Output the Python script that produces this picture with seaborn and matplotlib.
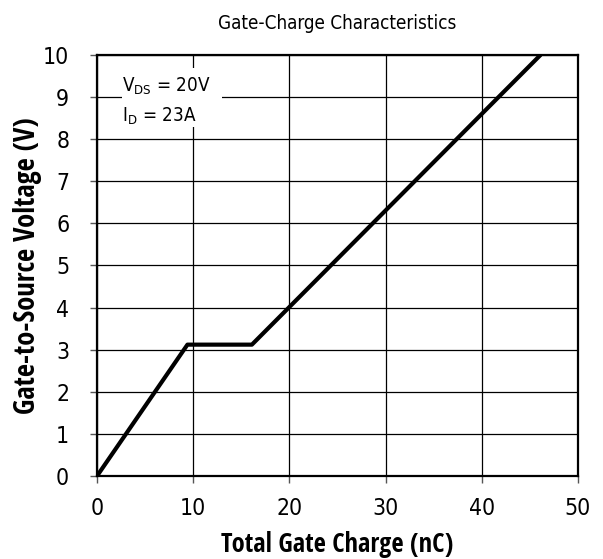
import matplotlib
matplotlib.use("Agg")
import matplotlib.pyplot as plt
import seaborn as sns
import pandas as pd
from matplotlib.patches import Rectangle

charge_nC = [0.0, 9.4, 16.1, 46.1]
vgs_V = [0.0, 3.12, 3.12, 10.0]
x_ticks = [0, 10, 20, 30, 40, 50]
y_ticks = [0, 1, 2, 3, 4, 5, 6, 7, 8, 9, 10]

sns.set_theme(style="white")
plt.rcParams['font.family'] = ['DejaVu Sans']
plt.rcParams['font.stretch'] = 'condensed'
plt.rcParams['mathtext.fontset'] = 'custom'
plt.rcParams['mathtext.rm'] = 'DejaVu Sans:stretch=condensed'

fig = plt.figure(figsize=(6.03, 5.59), dpi=100)
ax = fig.add_axes([0.1609, 0.1485, 0.7976, 0.7531])

df = pd.DataFrame({"Q": charge_nC, "V": vgs_V})
sns.lineplot(data=df, x="Q", y="V", ax=ax, color="black", linewidth=3.0, sort=False, zorder=5)

ax.set_xlim(0, 50)
ax.set_ylim(0, 10)
ax.set_xticks(x_ticks)
ax.set_yticks(y_ticks)
ax.grid(True, color="black", linewidth=0.9)
ax.set_axisbelow(True)
for s in ax.spines.values():
    s.set_color("black")
    s.set_linewidth(1.6)
ax.tick_params(axis="both", which="major", direction="out", length=5, width=1,
               color="#555555", labelsize=16.5, labelcolor="black",
               bottom=True, left=True)
ax.tick_params(axis="x", pad=10)
ax.tick_params(axis="y", pad=15)

ax.set_xlabel("Total Gate Charge (nC)", family="Open Sans Condensed", weight="bold",
              size=19, color="black", labelpad=8)
ax.set_ylabel("Gate-to-Source Voltage (V)", family="Open Sans Condensed", weight="bold",
              size=20.5, color="black", labelpad=1)
ax.set_title("Gate-Charge Characteristics", fontsize=13.5, color="black", pad=19)

ax.add_patch(Rectangle((2.6, 8.29), 10.4, 1.4, facecolor="white", edgecolor="none", zorder=3))
ax.text(2.6, 9.12, "V$_{\\mathregular{DS}}$ = 20V", fontsize=13.5, color="black",
        va="baseline", ha="left", zorder=4)
ax.text(2.6, 8.41, "I$_{\\mathregular{D}}$ = 23A", fontsize=13.5, color="black",
        va="baseline", ha="left", zorder=4)

fig.savefig("out.png", dpi=100)
